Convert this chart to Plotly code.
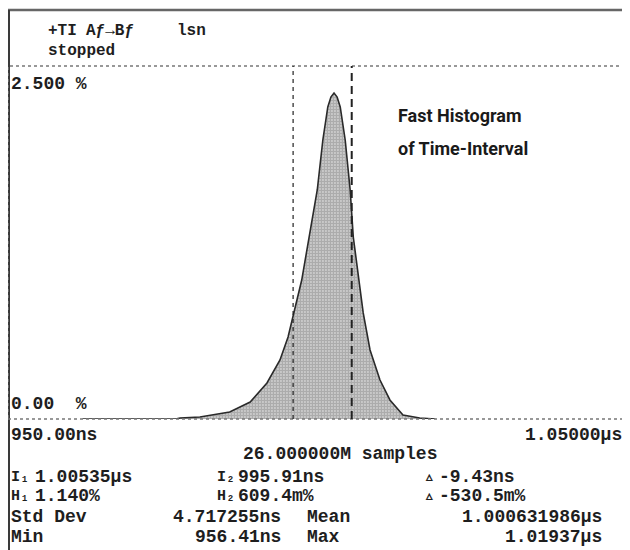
import plotly.graph_objects as go

# ---------------- data ----------------
time_ns = [962.0, 977.0, 977.7, 980.9, 985.7, 989.0, 991.7, 993.8, 995.1, 995.9,
           997.3, 998.6, 999.8, 1000.7, 1001.5, 1002.0, 1002.5, 1003.0, 1003.5,
           1004.3, 1005.1, 1005.6, 1006.2, 1007.2, 1008.3, 1009.9, 1011.5,
           1013.6, 1016.3, 1018.8]
pct = [0, 0, 0.007, 0.014, 0.050, 0.120, 0.255, 0.418, 0.581, 0.722,
       0.984, 1.317, 1.622, 1.976, 2.210, 2.280, 2.309, 2.280, 2.210,
       1.976, 1.622, 1.289, 1.076, 0.751, 0.489, 0.276, 0.135,
       0.028, 0.007, 0]

x_range = [950.0, 1050.0]
y_range = [0.0, 2.5]
cursor_1 = 1005.35   # I1
cursor_2 = 995.91    # I2

header_1 = ["+TI", "Aƒ→Bƒ", "lsn"]
header_2 = "stopped"
y_labels = ["2.500 %", "0.00  %"]
x_labels = ["950.00ns", "1.05000μs"]
samples_label = "26.000000M samples"
cursor_rows = [
    ["I₁", "1.00535μs", "I₂", "995.91ns", "▵", "-9.43ns"],
    ["H₁", "1.140%", "H₂", "609.4m%", "▵", "-530.5m%"],
]
stat_rows = [
    ["Std Dev", "4.717255ns", "Mean", "1.000631986μs"],
    ["Min", "956.41ns", "Max", "1.01937μs"],
]
title_lines = ["Fast Histogram", "of Time-Interval"]

# ---------------- layout helpers (page pixels) ----------------
OFF = 8                      # default body margin of the page
W, H = 630 - OFF, 550 - OFF  # figure size that fits the window
PL, PR, PT, PB = 8, 629, 66, 419


def px(x):
    return (x - OFF) / W


def py(y):
    return 1 - (y - OFF) / H


MONO = "Liberation Mono"
FS = 18
INK = "#1e1e1e"

fig = go.Figure()
fig.add_trace(go.Scatter(
    x=time_ns, y=pct, mode="lines",
    line=dict(color="#2a2a2a", width=1.6),
    fill="tozeroy",
    fillcolor="rgba(0,0,0,0)",
    fillpattern=dict(shape=".", size=3, solidity=0.8, fgcolor="#5a5a5a",
                     bgcolor="#ffffff"),
    hoverinfo="skip", showlegend=False,
))

shapes = []
# outer gray frame (top + left)
shapes.append(dict(type="line", xref="paper", yref="paper", x0=px(PL), x1=1,
                   y0=py(10), y1=py(10), line=dict(color="#666666", width=2.5)))
shapes.append(dict(type="line", xref="paper", yref="paper", x0=px(PL + 1), x1=px(PL + 1),
                   y0=py(10), y1=0, line=dict(color="#3a3a3a", width=2)))
# dotted plot box
shapes.append(dict(type="rect", xref="paper", yref="paper", x0=px(PL), x1=px(PR),
                   y0=py(PB), y1=py(PT),
                   line=dict(color="#777777", width=1.5, dash="dot")))
# cursors
shapes.append(dict(type="line", xref="x", yref="paper", x0=cursor_2, x1=cursor_2,
                   y0=py(PB), y1=py(PT),
                   line=dict(color="#222222", width=1.2, dash="4px,4px")))
shapes.append(dict(type="line", xref="x", yref="paper", x0=cursor_1, x1=cursor_1,
                   y0=py(PB), y1=py(PT),
                   line=dict(color="#222222", width=2, dash="8px,5px")))

ann = []


def text(s, x, y, anchor="left", size=FS, family=MONO, bold=True, color=INK):
    ann.append(dict(text=f"<b>{s}</b>" if bold else s, x=px(x), y=py(y),
                    xref="paper", yref="paper", xanchor=anchor, yanchor="middle",
                    showarrow=False, font=dict(family=family, size=size, color=color)))


# header
text(header_1[0], 46, 31, size=16)
text(header_1[1], 84, 31, size=16)
text(header_1[2], 175, 31, size=16)
text(header_2, 46, 51, size=16)
# y labels
text(y_labels[0], 9, 84)
text(y_labels[1], 9, 404)
# x labels
text(x_labels[0], 9, 435)
text(x_labels[1], 624, 435, anchor="right")
text(samples_label, 241, 454)
# cursor rows
for row, y in zip(cursor_rows, [477, 496]):
    text(row[0], 9, y, size=15)
    text(row[1], 33, y)
    text(row[2], 215, y, size=15)
    text(row[3], 236, y)
    text(row[4], 423, y, size=13)
    text(row[5], 437, y)
# stat rows
for row, y in zip(stat_rows, [517, 537]):
    text(row[0], 9, y)
    text(row[1], 283, y, anchor="right")
    text(row[2], 305, y)
    text(row[3], 604, y, anchor="right")
# title
text(title_lines[0], 396, 115, family="Roboto", size=18, color="#1a1a1a")
text(title_lines[1], 396, 148, family="Roboto", size=18, color="#1a1a1a")

fig.update_layout(
    width=W, height=H,
    margin=dict(l=0, r=0, t=0, b=0),
    paper_bgcolor="white", plot_bgcolor="white",
    xaxis=dict(range=x_range, domain=[px(PL), px(PR)], visible=False, fixedrange=True),
    yaxis=dict(range=y_range, domain=[py(PB), py(PT)], visible=False, fixedrange=True),
    shapes=shapes, annotations=ann,
)

fig.write_html("out.html")
